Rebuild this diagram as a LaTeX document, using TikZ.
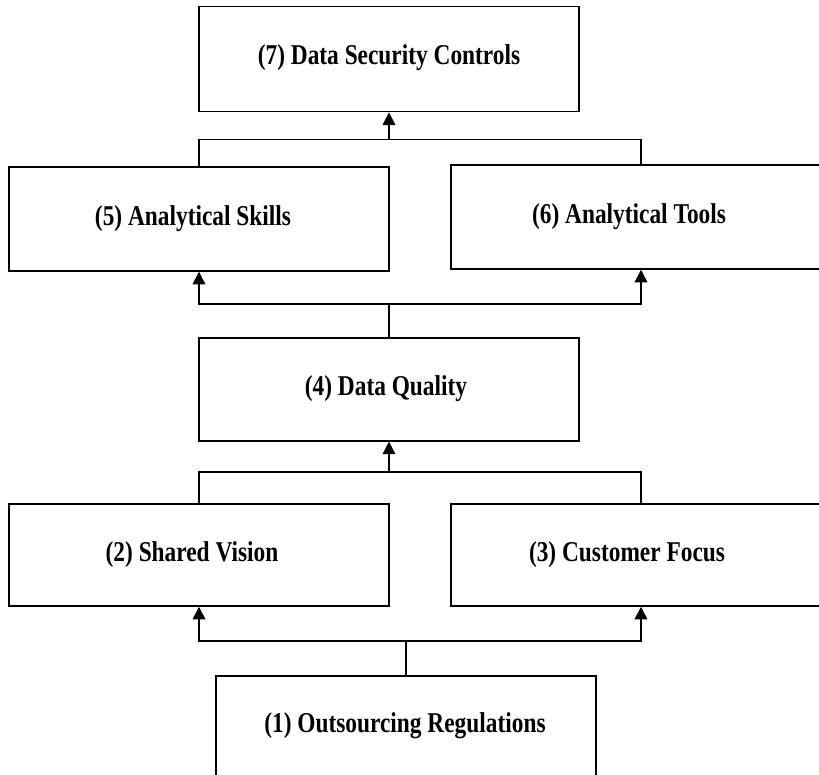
\documentclass[tikz,border=0pt]{standalone}
\usepackage{fontspec}
\setmainfont{Liberation Serif}
\usetikzlibrary{arrows.meta}
\begin{document}
\begin{tikzpicture}[x=0.75pt,y=-0.75pt,
  box/.style={draw,line width=1.1pt,minimum width=285pt,inner sep=0pt},
  lbl/.style={font=\fontsize{21.5}{24}\selectfont\bfseries,inner sep=0pt,xscale=0.815},
  conn/.style={line width=1.1pt},
  arr/.style={conn,-{Triangle[length=9.5pt,width=9.5pt]}}]
\useasboundingbox (0,0) rectangle (819,775);
\clip (0,0) rectangle (819,775);
\node[box,minimum height=79pt] (b7) at (389,59) {};
\node[box,minimum height=78pt] (b5) at (199,219) {};
\node[box,minimum height=78pt] (b6) at (641,217) {};
\node[box,minimum height=77pt] (b4) at (389,389.5) {};
\node[box,minimum height=76.5pt] (b2) at (199,555) {};
\node[box,minimum height=76.5pt] (b3) at (641,555) {};
\node[box,minimum height=78pt] (b1) at (406,728) {};
\node[lbl] (t7) at (389,58) {(7) Data Security Controls};
\node[lbl] (t5) at (193,219) {(5) Analytical Skills};
\node[lbl] (t6) at (629,217) {(6) Analytical Tools};
\node[lbl] (t4) at (386,389) {(4) Data Quality};
\node[lbl] (t2) at (192,555) {(2) Shared Vision};
\node[lbl] (t3) at (627,555) {(3) Customer Focus};
\node[lbl] (t1) at (405,726) {(1) Outsourcing Regulations};
\coordinate (j1) at (389,139.5);
\coordinate (j2) at (389,304);
\coordinate (j3) at (389,472);
\coordinate (j4) at (406,641);
\draw[conn] (b5.north) |- (j1);
\draw[conn] (b6.north) |- (j1);
\draw[arr] (j1) -- (b7.south);
\draw[conn] (b4.north) -- (j2);
\draw[arr] (j2) -| (b5.south);
\draw[arr] (j2) -| (b6.south);
\draw[conn] (b2.north) |- (j3);
\draw[conn] (b3.north) |- (j3);
\draw[arr] (j3) -- (b4.south);
\draw[conn] (b1.north) -- (j4);
\draw[arr] (j4) -| (b2.south);
\draw[arr] (j4) -| (b3.south);
\end{tikzpicture}
\end{document}
